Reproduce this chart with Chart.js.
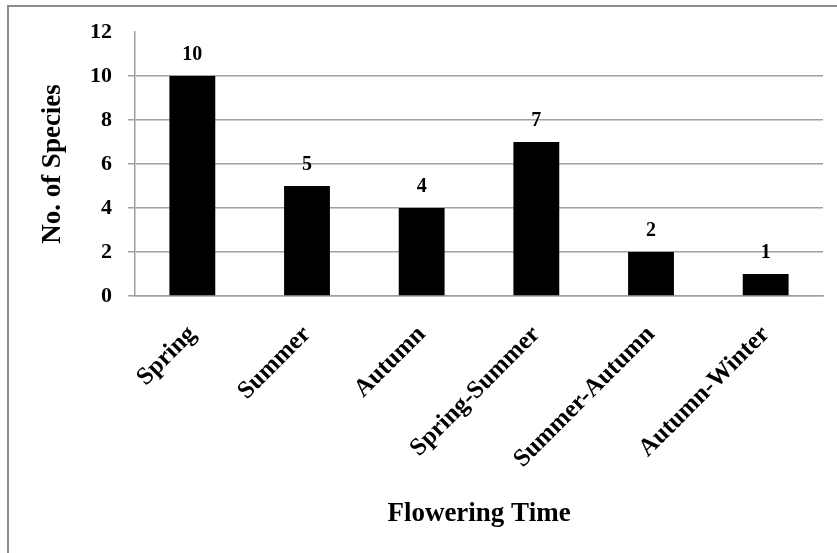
<!DOCTYPE html>
<html>
<head>
<meta charset="utf-8">
<script src="https://cdn.jsdelivr.net/npm/chart.js@4/dist/chart.umd.min.js"></script>
<style>
  html, body { margin: 0; padding: 0; background: #ffffff; }
  #wrap { position: relative; width: 837px; height: 553px; }
</style>
</head>
<body>
<div id="wrap"><canvas id="c" width="837" height="553"></canvas></div>
<script>
const categories = ['Spring', 'Summer', 'Autumn', 'Spring-Summer', 'Summer-Autumn', 'Autumn-Winter'];
const speciesCounts = [10, 5, 4, 7, 2, 1];
const yTicks = [0, 2, 4, 6, 8, 10, 12];
const xTitle = 'Flowering Time';
const yTitle = 'No. of Species';

const FONT = "'Liberation Serif', 'Times New Roman', serif";

const frame = {
  id: 'frame',
  beforeDraw(chart) {
    const ctx = chart.ctx;
    ctx.save();
    ctx.fillStyle = '#ffffff';
    ctx.fillRect(0, 0, chart.width, chart.height);
    ctx.strokeStyle = '#8c8c8c';
    ctx.lineWidth = 2;
    ctx.beginPath();
    ctx.moveTo(8, chart.height);
    ctx.lineTo(8, 6);
    ctx.lineTo(chart.width, 6);
    ctx.stroke();
    ctx.restore();
  }
};

const valueLabels = {
  id: 'valueLabels',
  afterDatasetsDraw(chart) {
    const ctx = chart.ctx;
    const meta = chart.getDatasetMeta(0);
    ctx.save();
    ctx.font = "bold 20px " + FONT;
    ctx.fillStyle = '#000000';
    ctx.textAlign = 'center';
    ctx.textBaseline = 'alphabetic';
    meta.data.forEach((bar, i) => {
      ctx.fillText(String(speciesCounts[i]), bar.x, bar.y - 16);
    });
    ctx.restore();
  }
};

new Chart(document.getElementById('c'), {
  type: 'bar',
  data: {
    labels: categories,
    datasets: [{
      data: speciesCounts,
      backgroundColor: '#000000',
      borderWidth: 0,
      categoryPercentage: 1.0,
      barPercentage: 0.4
    }]
  },
  options: {
    responsive: false,
    animation: false,
    devicePixelRatio: 1,
    layout: { padding: { left: 33, top: 32, right: 14, bottom: 19 } },
    plugins: { legend: { display: false }, tooltip: { enabled: false } },
    scales: {
      x: {
        grid: { display: false, drawTicks: false },
        border: { display: true, color: '#a0a0a0', width: 1.5 },
        ticks: {
          color: '#000000',
          font: { family: FONT, size: 25, weight: 'bold' },
          minRotation: 45,
          maxRotation: 45,
          padding: 24
        },
        title: {
          display: true,
          text: xTitle,
          color: '#000000',
          font: { family: FONT, size: 27, weight: 'bold' },
          padding: { top: 4, bottom: 4 }
        },
        afterFit(scale) { scale.height = 238; }
      },
      y: {
        min: 0,
        max: 12,
        afterBuildTicks(scale) { scale.ticks = yTicks.map(v => ({ value: v })); },
        grid: {
          color: (c) => (c.tick && c.tick.value === 12) ? 'rgba(0,0,0,0)' : '#a0a0a0',
          lineWidth: 1.5,
          tickLength: 7,
          drawTicks: true
        },
        border: { display: true, color: '#a0a0a0', width: 1.5 },
        ticks: {
          color: '#000000',
          font: { family: FONT, size: 22, weight: 'bold' },
          padding: 16
        },
        title: {
          display: true,
          text: yTitle,
          color: '#000000',
          font: { family: FONT, size: 27, weight: 'bold' },
          padding: { top: 4, bottom: 4 }
        },
        afterFit(scale) { scale.width = 102; }
      }
    }
  },
  plugins: [frame, valueLabels]
});
</script>
</body>
</html>
